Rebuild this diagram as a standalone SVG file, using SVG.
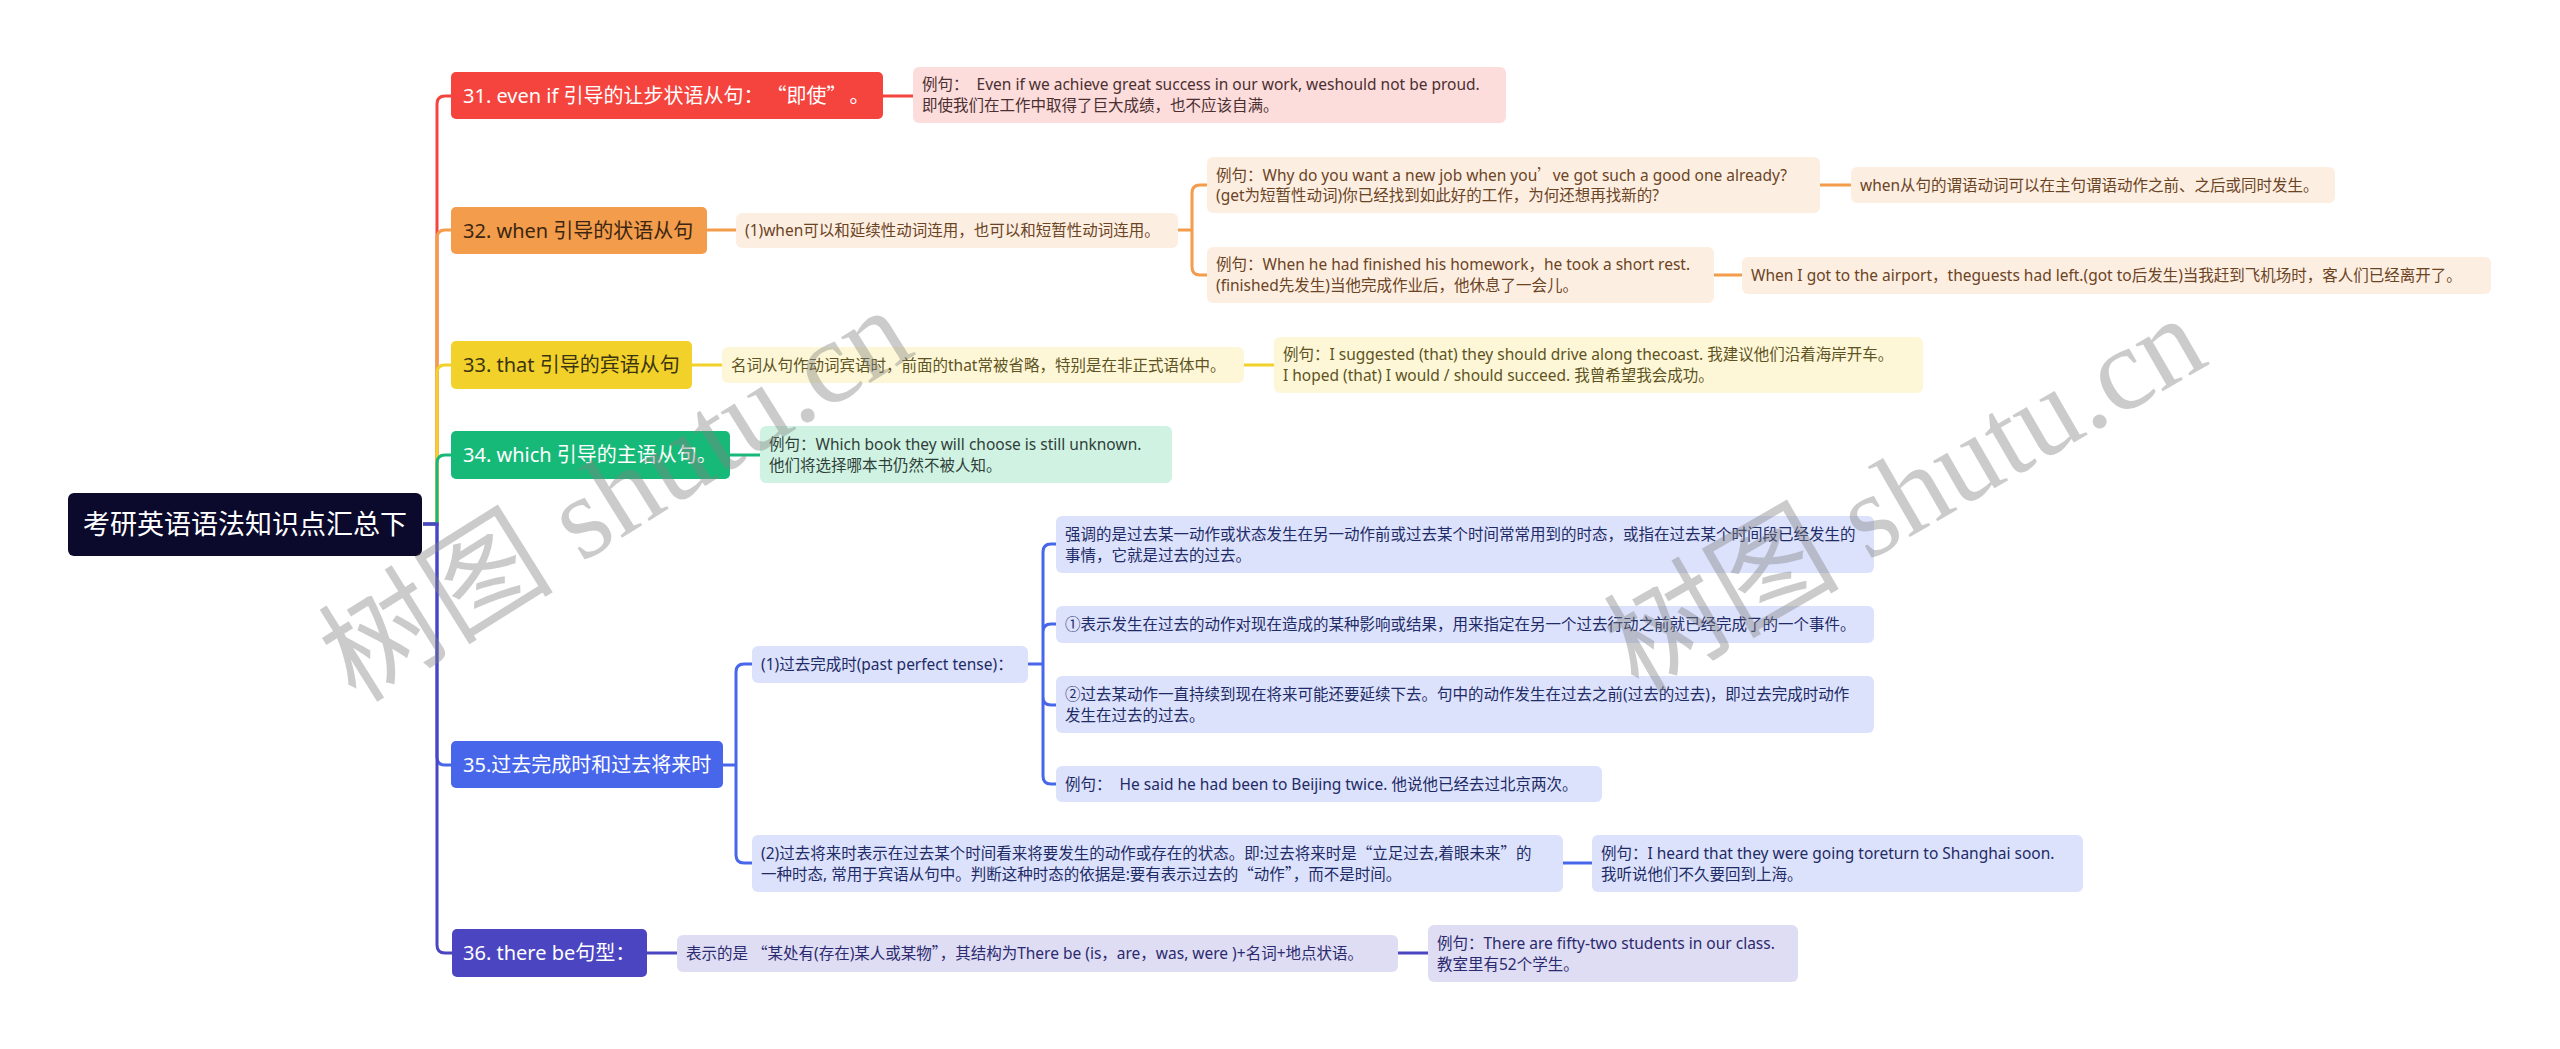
<svg xmlns="http://www.w3.org/2000/svg" width="2560" height="1049" viewBox="0 0 2560 1049">
<style>
text{font-family:"Noto Sans","Noto Sans CJK SC",sans-serif}
.root{font-size:27px;fill:#fff}
.l1{font-size:20px}
.l2{font-size:15.5px}
.w{fill:#fff}
.q{font-family:"Noto Sans CJK SC",sans-serif}
.c{fill:none;stroke-width:3}
.wm{font-family:"Liberation Serif","Noto Sans CJK SC",serif;font-size:118px;fill:#808080;opacity:0.4}
</style>
<rect width="2560" height="1049" fill="#fff"/>
<g id="connectors">
<path class="c" stroke="#f5433e" d="M423,524 H437 V104 Q437,96 445,96 H451"/>
<path class="c" stroke="#f39c4b" d="M423,524 H437 V238 Q437,230 445,230 H451"/>
<path class="c" stroke="#f2d22a" d="M423,524 H437 V373 Q437,365 445,365 H451"/>
<path class="c" stroke="#17b978" d="M423,524 H437 V463 Q437,455 445,455 H451"/>
<path class="c" stroke="#4766ea" d="M423,524 H437 V757 Q437,765 445,765 H451"/>
<path class="c" stroke="#4b45c2" d="M423,524 H437 V945 Q437,953 445,953 H452"/>
<path class="c" stroke="#f5433e" d="M883,96 H913"/>
<path class="c" stroke="#f39c4b" d="M707,230 H736"/>
<path class="c" stroke="#f39c4b" d="M1178,230 H1192 M1192,230 V193 Q1192,185 1200,185 H1207 M1192,230 V267 Q1192,275 1200,275 H1207"/>
<path class="c" stroke="#f39c4b" d="M1820,185 H1851 M1714,275 H1742"/>
<path class="c" stroke="#f2d22a" d="M692,365 H722 M1244,365 H1274"/>
<path class="c" stroke="#17b978" d="M730,455 H760"/>
<path class="c" stroke="#4766ea" d="M723,765 H736 M736,765 V672 Q736,664 744,664 H752 M736,765 V855 Q736,863 744,863 H752"/>
<path class="c" stroke="#4766ea" d="M1028,664 H1043 M1043,664 V552 Q1043,544 1051,544 H1056 M1043,664 V632 Q1043,624 1051,624 H1056 M1043,664 V697 Q1043,705 1051,705 H1056 M1043,664 V776 Q1043,784 1051,784 H1056"/>
<path class="c" stroke="#4766ea" d="M1563,863 H1592"/>
<path class="c" stroke="#4b45c2" d="M647,953 H677 M1398,953 H1428"/>
</g>
<g id="root">
<rect x="68" y="493" width="354" height="63" rx="6" fill="#0b0a2c"/>
<text class="root" x="245" y="534" text-anchor="middle">考研英语语法知识点汇总下</text>
</g>
<g id="n31">
<rect x="451" y="72" width="432" height="47" rx="5" fill="#f5433e"/>
<text class="l1 w" x="463" y="102.5">31. even if 引导的让步状语从句：<tspan class="q" dx="13">“</tspan>即使<tspan class="q">”</tspan><tspan dx="13">。</tspan></text>
</g>
<g id="n31a">
<rect x="913" y="67" width="593" height="56" rx="6" fill="#fddcdc"/>
<text class="l2" fill="#4a3030" xml:space="preserve"><tspan x="922" y="90">例句：  Even if we achieve great success in our work, weshould not be proud.</tspan><tspan x="922" y="111">即使我们在工作中取得了巨大成绩，也不应该自满。</tspan></text>
</g>
<g id="n32">
<rect x="451" y="207" width="256" height="47" rx="5" fill="#f39c4b"/>
<text class="l1" fill="#3b2611" x="463" y="237.5">32. when 引导的状语从句</text>
</g>
<g id="n32a">
<rect x="736" y="213" width="442" height="35" rx="6" fill="#fdeee2"/>
<text class="l2" fill="#6b4424" x="745" y="236">(1)when可以和延续性动词连用，也可以和短暂性动词连用。</text>
</g>
<g id="n32a1">
<rect x="1207" y="157" width="613" height="56" rx="6" fill="#fdeee2"/>
<text class="l2" fill="#6b4424"><tspan x="1216" y="180.5">例句：Why do you want a new job when you<tspan class="q">’</tspan>ve got such a good one already?</tspan><tspan x="1216" y="201">(get为短暂性动词)你已经找到如此好的工作，为何还想再找新的?</tspan></text>
</g>
<g id="n32a2">
<rect x="1207" y="247" width="507" height="56" rx="6" fill="#fdeee2"/>
<text class="l2" fill="#6b4424"><tspan x="1216" y="270">例句：When he had finished his homework，he took a short rest.</tspan><tspan x="1216" y="291">(finished先发生)当他完成作业后，他休息了一会儿。</tspan></text>
</g>
<g id="n32a1a">
<rect x="1851" y="167" width="484" height="36" rx="6" fill="#fdeee2"/>
<text class="l2" fill="#6b4424" x="1860" y="190.5">when从句的谓语动词可以在主句谓语动作之前、之后或同时发生。</text>
</g>
<g id="n32a2a">
<rect x="1742" y="257" width="749" height="37" rx="6" fill="#fdeee2"/>
<text class="l2" fill="#6b4424" x="1751" y="281">When I got to the airport，theguests had left.(got to后发生)当我赶到飞机场时，客人们已经离开了。</text>
</g>
<g id="n33">
<rect x="451" y="341" width="241" height="48" rx="5" fill="#f2d22a"/>
<text class="l1" fill="#3b3410" x="463" y="372">33. that 引导的宾语从句</text>
</g>
<g id="n33a">
<rect x="722" y="347" width="522" height="36" rx="6" fill="#fdf7d7"/>
<text class="l2" fill="#5e5322" x="731" y="370.5">名词从句作动词宾语时，前面的that常被省略，特别是在非正式语体中。</text>
</g>
<g id="n33a1">
<rect x="1274" y="337" width="649" height="56" rx="6" fill="#fdf7d7"/>
<text class="l2" fill="#5e5322"><tspan x="1283" y="360">例句：I suggested (that) they should drive along thecoast. 我建议他们沿着海岸开车。</tspan><tspan x="1283" y="381">I hoped (that) I would / should succeed. 我曾希望我会成功。</tspan></text>
</g>
<g id="n34">
<rect x="451" y="431" width="279" height="48" rx="5" fill="#17b978"/>
<text class="l1 w" x="463" y="462">34. which 引导的主语从句。</text>
</g>
<g id="n34a">
<rect x="760" y="426" width="412" height="57" rx="6" fill="#cff2e3"/>
<text class="l2" fill="#2f3f38"><tspan x="769" y="449.5">例句：Which book they will choose is still unknown.</tspan><tspan x="769" y="470.5">他们将选择哪本书仍然不被人知。</tspan></text>
</g>
<g id="n35">
<rect x="451" y="741" width="272" height="47" rx="5" fill="#4766ea"/>
<text class="l1 w" x="463" y="771.5">35.过去完成时和过去将来时</text>
</g>
<g id="n35a">
<rect x="752" y="646" width="276" height="37" rx="6" fill="#dce2fb"/>
<text class="l2" fill="#1e2b66" x="761" y="670">(1)过去完成时(past perfect tense)：</text>
</g>
<g id="n35a1">
<rect x="1056" y="516" width="818" height="57" rx="6" fill="#dce2fb"/>
<text class="l2" fill="#1e2b66"><tspan x="1065" y="539.5">强调的是过去某一动作或状态发生在另一动作前或过去某个时间常常用到的时态，或指在过去某个时间段已经发生的</tspan><tspan x="1065" y="560.5">事情，它就是过去的过去。</tspan></text>
</g>
<g id="n35a2">
<rect x="1056" y="606" width="818" height="37" rx="6" fill="#dce2fb"/>
<text class="l2" fill="#1e2b66" x="1065" y="630">①表示发生在过去的动作对现在造成的某种影响或结果，用来指定在另一个过去行动之前就已经完成了的一个事件。</text>
</g>
<g id="n35a3">
<rect x="1056" y="676" width="818" height="57" rx="6" fill="#dce2fb"/>
<text class="l2" fill="#1e2b66"><tspan x="1065" y="699.5">②过去某动作一直持续到现在将来可能还要延续下去。句中的动作发生在过去之前(过去的过去)，即过去完成时动作</tspan><tspan x="1065" y="720.5">发生在过去的过去。</tspan></text>
</g>
<g id="n35a4">
<rect x="1056" y="766" width="546" height="36" rx="6" fill="#dce2fb"/>
<text class="l2" fill="#1e2b66" x="1065" y="789.5" xml:space="preserve">例句：  He said he had been to Beijing twice. 他说他已经去过北京两次。</text>
</g>
<g id="n35b">
<rect x="752" y="835" width="811" height="57" rx="6" fill="#dce2fb"/>
<text class="l2" fill="#1e2b66"><tspan x="761" y="858.5">(2)过去将来时表示在过去某个时间看来将要发生的动作或存在的状态。即:过去将来时是<tspan class="q">“</tspan>立足过去,着眼未来<tspan class="q">”</tspan>的</tspan><tspan x="761" y="879.5">一种时态, 常用于宾语从句中。判断这种时态的依据是:要有表示过去的<tspan class="q">“</tspan>动作<tspan class="q">”</tspan>，而不是时间。</tspan></text>
</g>
<g id="n35b1">
<rect x="1592" y="835" width="491" height="57" rx="6" fill="#dce2fb"/>
<text class="l2" fill="#1e2b66"><tspan x="1601" y="858.5">例句：I heard that they were going toreturn to Shanghai soon.</tspan><tspan x="1601" y="879.5">我听说他们不久要回到上海。</tspan></text>
</g>
<g id="n36">
<rect x="452" y="929" width="195" height="48" rx="5" fill="#4b45c2"/>
<text class="l1 w" x="463" y="960">36. there be句型：</text>
</g>
<g id="n36a">
<rect x="677" y="935" width="721" height="37" rx="6" fill="#deddf4"/>
<text class="l2" fill="#2c2a6e" x="686" y="959">表示的是 <tspan class="q">“</tspan>某处有(存在)某人或某物<tspan class="q">”</tspan>，其结构为There be (is，are，was, were )+名词+地点状语。</text>
</g>
<g id="n36a1">
<rect x="1428" y="925" width="370" height="57" rx="6" fill="#deddf4"/>
<text class="l2" fill="#2c2a6e"><tspan x="1437" y="948.5">例句：There are fifty-two students in our class.</tspan><tspan x="1437" y="969.5">教室里有52个学生。</tspan></text>
</g>
<g id="watermark">
<text class="wm" transform="translate(356,704) rotate(-32)">树图 shutu.cn</text>
<text class="wm" transform="translate(1638,694) rotate(-30)">树图 shutu.cn</text>
</g>
</svg>
